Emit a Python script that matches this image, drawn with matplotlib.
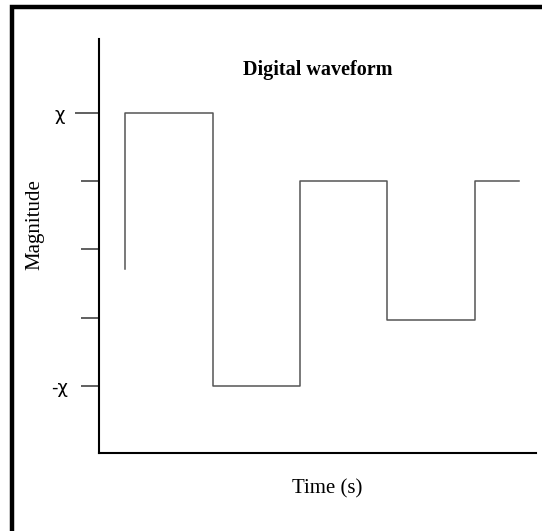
#Digital waveform step plot
import matplotlib
matplotlib.use("Agg")
import matplotlib.pyplot as plt
from matplotlib.patches import Rectangle

#data------------------------
t = [0, 0, 1, 1, 2, 2, 3, 3, 4, 4, 4.5]
mag = [-0.14, 1, 1, -1, -1, 0.5, 0.5, -0.52, -0.52, 0.5, 0.5]
yticks = [-1, -0.5, 0, 0.5, 1]
ylabels = ['-χ', '', '', '', 'χ']

#plot------------------------
fig = plt.figure(figsize=(5.42, 5.31), dpi=100)
ax = fig.add_axes([98.7/542, 1-453/531, (536-98.7)/542, (453-39)/531])

ax.plot(t, mag, color='#555555', lw=1.1)
ax.set_xlim(-0.305, 4.70)
ax.set_ylim(-1.49, 1.54)

ax.spines['top'].set_visible(False)
ax.spines['right'].set_visible(False)
ax.spines['left'].set_linewidth(1.5)
ax.spines['bottom'].set_linewidth(1.5)

ax.set_xticks([])
ax.set_yticks(yticks)
ax.set_yticklabels(ylabels, fontsize=13, family='DejaVu Sans')
ax.tick_params(axis='y', length=13, width=1.2, color='#444444', pad=9)
# the top tick is drawn a bit longer
top = ax.yaxis.get_major_ticks()[-1]
top.set_pad(11)
top.tick1line.set_markersize(17)

ax.set_title('Digital waveform', fontsize=14.5, fontweight='bold',
             family='Liberation Serif', y=0.913, pad=0)
ax.set_xlabel('Time (s)', fontsize=15, family='Liberation Serif')
ax.xaxis.set_label_coords((327-98.7)/(536-98.7), -(479-453)/(453-39))
ax.set_ylabel('Magnitude', fontsize=15, family='Liberation Serif')
ax.yaxis.set_label_coords(-(98.7-44)/(536-98.7), (453-225)/(453-39))

# thick frame, cropped at right and bottom
fig.patches.append(Rectangle((12/542, -0.1), 1.2, 1-7/531+0.1,
                             transform=fig.transFigure, fill=False,
                             lw=3.2, ec='black'))

fig.savefig('out.png', dpi=100)
